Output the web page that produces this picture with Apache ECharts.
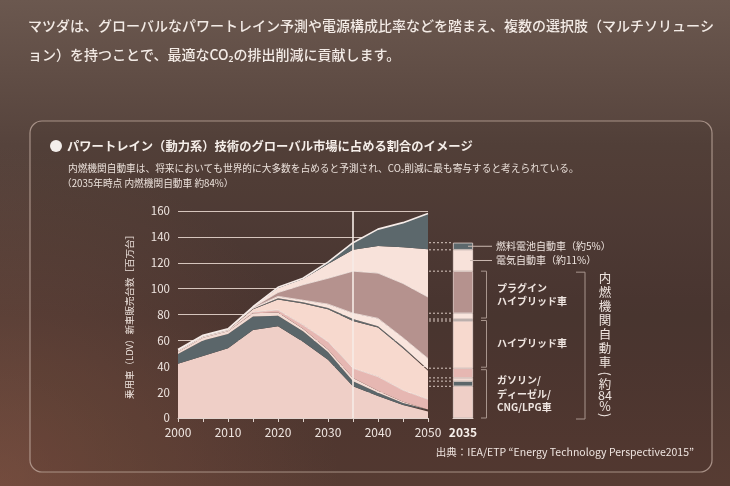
<!DOCTYPE html>
<html><head><meta charset="utf-8">
<script src="https://cdn.jsdelivr.net/npm/echarts@6.0.0/dist/echarts.min.js"></script>
<style>html,body{margin:0;padding:0;background:#54413a;}#c{width:730px;height:486px;}</style>
</head><body><div id="c"></div>
<script>
// ---- data (millions of LDV sales) ----
const years = ['2000','2005','2010','2015','2020','2025','2030','2035','2040','2045','2050'];
const gasoline     = [42, 48, 54, 68, 71, 59, 45, 24.5, 17, 10, 5];
const diesel       = [7.5, 12, 11, 10.5, 8, 8, 6, 4, 2.5, 1.5, 1];
const cng          = [1.5, 2, 2, 2.5, 2.5, 2, 2, 2.5, 1.5, 1, 0.5];
const lpg          = [0.5, 0.5, 0.5, 1, 2, 3, 6, 7.5, 11, 9, 8];
const hybrid       = [0.5, 0.5, 0.5, 2, 8, 16.5, 25, 36.5, 38, 32.5, 22];
const dieselHybrid = [0.3, 0.3, 0.3, 0.5, 1, 1, 1, 1.5, 1, 1, 1];
const otherHybrid  = [0.2, 0.2, 0.2, 0.5, 1.5, 1.5, 3, 4.5, 6, 7, 8.5];
const phev         = [0, 0, 0, 0.5, 3, 12, 20, 32.5, 35, 42, 47.5];
const ev           = [0.5, 0.5, 0.5, 0.5, 3.5, 4.5, 11, 16.5, 21, 28, 37];
const fcv          = [0, 0, 0, 0, 0.5, 0.5, 1.5, 5.5, 13, 19, 27.5];
const barYear = ['2035'];
const yTicks = {min: 0, max: 160, interval: 20};
const iceChars = ['内','燃','機','関','自','動','車','(','約','84','%',')'];

const layers = [
  {name:'ガソリン', data: gasoline, color:'#efcfc7', line:0},
  {name:'ディーゼル', data: diesel, color:'#5b666a', line:0},
  {name:'CNG', data: cng, color:'#f3dcd4', line:0},
  {name:'LPG', data: lpg, color:'#e6b7b2', line:0.8},
  {name:'ハイブリッド', data: hybrid, color:'#f7d9ce', line:0},
  {name:'ディーゼルハイブリッド', data: dieselHybrid, color:'#646a6c', line:0},
  {name:'その他ハイブリッド', data: otherHybrid, color:'#f9e5dd', line:0.8},
  {name:'プラグインハイブリッド', data: phev, color:'#b5928e', line:0.8},
  {name:'電気自動車', data: ev, color:'#f8e2da', line:0},
  {name:'燃料電池自動車', data: fcv, color:'#5c686c', line:1.6}
];

const FONT = '"Noto Sans CJK JP", "Noto Sans", sans-serif';
const TXT = '#efe5e0';
const bi = years.indexOf(barYear[0]);
const cum = []; let acc = 0;
layers.forEach(l => { acc += l.data[bi]; cum.push(acc); });

const chart = echarts.init(document.getElementById('c'), null, {renderer:'canvas'});

const areaSeries = layers.map((l, i) => ({
  name: l.name, type: 'line', stack: 'total', xAxisIndex: 0, yAxisIndex: 0,
  data: l.data, symbol: 'none', smooth: false, z: 2,
  lineStyle: {width: l.line, color: i === layers.length - 1 ? '#f6ece8' : '#f7ebe6', opacity: l.line ? 1 : 0},
  areaStyle: {color: l.color, opacity: 1},
  markLine: i === layers.length - 1 ? {
    symbol: 'none', silent: true, label: {show: false},
    lineStyle: {color: '#f6ebe6', width: 1.6, type: 'solid'},
    data: [{xAxis: barYear[0]}]
  } : undefined
}));

const barSeries = layers.map(l => ({
  name: l.name + '(2035)', type: 'bar', stack: 'bar', xAxisIndex: 1, yAxisIndex: 1,
  data: [l.data[bi]], barWidth: '100%',
  itemStyle: {color: l.color, borderColor: '#f3e3dd', borderWidth: 0.7}
}));

const annot = {
  type: 'custom', xAxisIndex: 1, yAxisIndex: 1, data: [[0, 0]], silent: true, z: 6, clip: false,
  renderItem(params, api) {
    const cs = params.coordSys;
    const yOf = v => api.coord([0, v])[1];
    const L = cs.x, R = cs.x + cs.width;
    const ch = [];
    const dot = {stroke:'#d9c9c2', lineWidth:1, lineDash:[2,2]};
    cum.forEach(v => ch.push({type:'line', shape:{x1:L-24, y1:yOf(v), x2:L-1, y2:yOf(v)}, style:dot}));
    const conn = {stroke:'#cbbab3', lineWidth:1};
    const lab = (text, x, y, extra) => ({type:'text', x, y, style:Object.assign({text, fill:TXT, fontSize:10, fontFamily:FONT, textAlign:'left', textVerticalAlign:'middle', lineHeight:13}, extra||{})});
    const yF = yOf((cum[8] + cum[9]) / 2), yE = yOf((cum[7] + cum[8]) / 2);
    ch.push({type:'line', shape:{x1:R-5, y1:yF, x2:R+19, y2:yF}, style:conn});
    ch.push({type:'line', shape:{x1:R-3, y1:yE, x2:R+19, y2:yE}, style:conn});
    ch.push(lab('燃料電池自動車（約5%）', R+23, yF));
    ch.push(lab('電気自動車（約11%）', R+23, yE));
    const br = {stroke:'#a8958d', lineWidth:1, fill:null};
    const bracket = (top, bot, x, w) => ({type:'polyline', shape:{points:[[x-w, top],[x, top],[x, bot],[x-w, bot]]}, style:br});
    const bx = R + 13.5;
    const pTop = yOf(cum[7]), pBot = yOf(cum[5]) - 1;
    const hTop = yOf(cum[5]) + 1.5, hBot = yOf(cum[3]) - 1;
    const gTop = yOf(cum[3]) + 1.5, gBot = yOf(0);
    ch.push(bracket(pTop, pBot, bx, 5.5));
    ch.push(bracket(hTop, hBot, bx, 5.5));
    ch.push(bracket(gTop, gBot, bx, 5.5));
    ch.push(lab('プラグイン\nハイブリッド車', R+24, (pTop+pBot)/2, {fontWeight:'bold', lineHeight:12.5}));
    ch.push(lab('ハイブリッド車', R+24, (hTop+hBot)/2 - 1, {fontWeight:'bold'}));
    ch.push(lab('ガソリン/\nディーゼル/\nCNG/LPG車', R+24, (gTop+gBot)/2, {fontWeight:'bold', lineHeight:13.5}));
    const BX = R + 112;
    ch.push(bracket(pTop + 1, gBot + 1, BX, 9));
    const offs = [7, 21, 35, 49, 63, 77, 91, 102.5, 113, 124, 135, 144];
    iceChars.forEach((c, i) => {
      const paren = (c === '(' || c === ')');
      ch.push({type:'text', x: R+132, y: pTop + offs[i], rotation: paren ? -Math.PI/2 : 0,
        style:{text:c, fill:TXT, fontSize: paren ? 13 : 12.5, fontFamily:FONT, textAlign:'center', textVerticalAlign:'middle'}});
    });
    return {type:'group', children: ch};
  }
};

const option = {
  animation: false,
  textStyle: {fontFamily: FONT},
  grid: [
    {left: 178, top: 211, width: 250, height: 207},
    {left: 453, top: 211, width: 20, height: 207}
  ],
  xAxis: [
    {type:'category', gridIndex:0, data: years, boundaryGap:false,
     axisLine:{show:true, lineStyle:{color:'#e2d4ce', width:1}},
     axisTick:{show:true, interval:0, length:4, lineStyle:{color:'#e2d4ce'}},
     axisLabel:{interval:1, color:TXT, fontSize:12, margin:8, fontFamily:FONT}},
    {type:'category', gridIndex:1, data: barYear,
     axisLine:{show:true, lineStyle:{color:'#e2d4ce'}}, axisTick:{show:false},
     axisLabel:{color:'#f7efea', fontSize:12, fontWeight:'bold', margin:8, fontFamily:FONT}}
  ],
  yAxis: [
    {type:'value', gridIndex:0, min:yTicks.min, max:yTicks.max, interval:yTicks.interval,
     axisLine:{show:false}, axisTick:{show:false},
     axisLabel:{color:TXT, fontSize:11.5, margin:8, fontFamily:FONT},
     splitLine:{show:true, lineStyle:{color:'#d6c5bd', width:1.2}},
     name:'乗用車（LDV）新車販売台数［百万台］', nameLocation:'middle', nameRotate:90, nameGap:44,
     nameTextStyle:{color:'#ebe0da', fontSize:9.5, fontFamily:FONT}},
    {type:'value', gridIndex:1, min:yTicks.min, max:yTicks.max, interval:yTicks.interval, show:false}
  ],
  graphic: [
    {type:'rect', z:-100, shape:{x:0, y:0, width:730, height:486},
     style:{fill:{type:'linear', x:0, y:0, x2:0, y2:1, colorStops:[
       {offset:0, color:'#6b584f'},{offset:0.3, color:'#56433c'},{offset:0.65, color:'#4c3832'},{offset:1, color:'#573c33'}]}}},
    {type:'rect', z:-99, shape:{x:0, y:0, width:730, height:486},
     style:{fill:{type:'radial', x:0, y:1, r:0.7, colorStops:[
       {offset:0, color:'rgba(150,95,75,0.45)'},{offset:1, color:'rgba(150,95,75,0)'}]}}},
    {type:'rect', z:-98, shape:{x:30, y:121, width:682, height:351, r:12},
     style:{fill:'rgba(35,20,15,0.07)', stroke:'rgba(195,172,162,0.75)', lineWidth:1.2}},
    {type:'text', x:28, y:26, style:{text:'マツダは、グローバルなパワートレイン予測や電源構成比率などを踏まえ、複数の選択肢（マルチソリューシ', fill:'#f3ebe6', fontSize:14, fontWeight:500, fontFamily:FONT, textVerticalAlign:'middle'}},
    {type:'text', x:28, y:55, style:{text:'ョン）を持つことで、最適なCO₂の排出削減に貢献します。', fill:'#f3ebe6', fontSize:14, fontWeight:500, fontFamily:FONT, textVerticalAlign:'middle'}},
    {type:'circle', shape:{cx:56, cy:146, r:6}, style:{fill:'#f3eeeb'}},
    {type:'text', x:67, y:146, style:{text:'パワートレイン（動力系）技術のグローバル市場に占める割合のイメージ', fill:'#f5eee9', fontSize:12.3, fontWeight:'bold', fontFamily:FONT, textVerticalAlign:'middle'}},
    {type:'text', x:68, y:168, style:{text:'内燃機関自動車は、将来においても世界的に大多数を占めると予測され、CO₂削減に最も寄与すると考えられている。', fill:'#ece2dc', fontSize:9.7, fontFamily:FONT, textVerticalAlign:'middle'}},
    {type:'text', x:62, y:183, style:{text:'（2035年時点 内燃機関自動車 約84%）', fill:'#ece2dc', fontSize:9.7, fontFamily:FONT, textVerticalAlign:'middle'}},
    {type:'text', x:694, y:452, style:{text:'出典：IEA/ETP “Energy Technology Perspective2015”', fill:'#efe5e0', fontSize:10.5, fontFamily:FONT, textAlign:'right', textVerticalAlign:'middle'}}
  ],
  series: [...areaSeries, ...barSeries, annot]
};
chart.setOption(option);
</script></body></html>
